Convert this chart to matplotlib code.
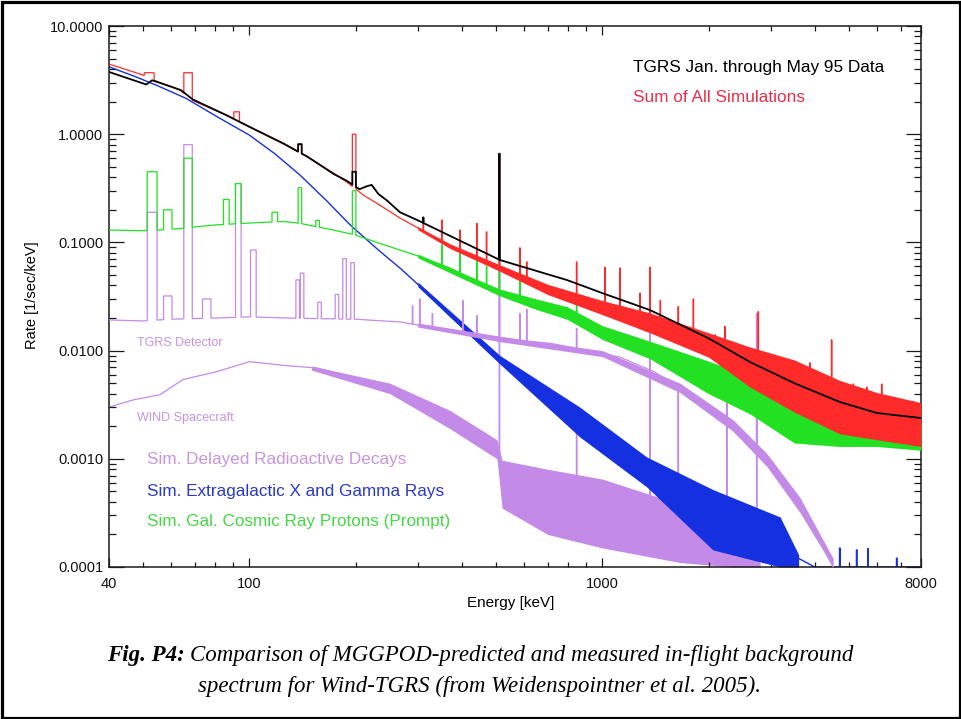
import numpy as np
import matplotlib
matplotlib.use("Agg")
import matplotlib.pyplot as plt
from matplotlib.patches import Rectangle
from matplotlib.ticker import FixedLocator, FixedFormatter, NullFormatter, LogLocator

plt.rcParams['font.family'] = ['Liberation Sans', 'DejaVu Sans']

# ---------------------------------------------------------------------------
# Spectra: energy [keV] and rate [1/sec/keV]
# ---------------------------------------------------------------------------

# TGRS measured background, Jan.-May 1995
tgrs_E = [40, 51, 53, 60, 64, 69, 86, 100, 125, 146, 173, 189, 205, 215, 222, 232,
          245, 267, 300, 370, 513, 794, 1000, 1365, 2000, 2620, 3500, 4710, 6000, 8000]
tgrs_R = [3.76, 2.88, 3.15, 2.75, 2.55, 2.10, 1.50, 1.17, 0.82, 0.62, 0.43, 0.37, 0.31,
          0.33, 0.34, 0.28, 0.245, 0.19, 0.16, 0.115, 0.0687, 0.0449, 0.034, 0.0237,
          0.0130, 0.00785, 0.0050, 0.00335, 0.00265, 0.00238]
tgrs_line_E = [139, 198, 311, 511]
tgrs_line_R = [0.81, 0.45, 0.17, 0.66]

# Sum of all simulated components
sum_E = [40, 50, 55, 63.6, 68.6, 86, 100, 125, 146, 173, 189, 210, 240, 267, 300, 370,
         513, 700, 1000, 1365, 2000, 2620, 3500, 4710, 6000, 8000]
sum_R = [4.45, 3.52, 3.05, 2.56, 2.07, 1.50, 1.17, 0.81, 0.616, 0.438, 0.36, 0.275,
         0.21, 0.168, 0.136, 0.094, 0.059, 0.037, 0.025, 0.018, 0.0113, 0.0071, 0.0047,
         0.0030, 0.0025, 0.0021]
sum_line_E = [52, 67, 92, 139, 198, 311, 351, 395, 441, 470, 511, 584, 611, 846, 1017,
              1122, 1279, 1365, 1460, 1641, 1811, 2086, 2225, 2506, 2766, 3018, 3440,
              3876, 4467, 5143, 5617, 6194, 7610]
sum_line_R = [3.7, 3.7, 1.61, 0.80, 1.0, 0.167, 0.161, 0.130, 0.15, 0.125, 0.66, 0.089,
              0.066, 0.066, 0.059, 0.058, 0.034, 0.059, 0.029, 0.0255, 0.030, 0.014,
              0.0167, 0.0097, 0.0229, 0.0083, 0.0074, 0.0077, 0.0126, 0.0049, 0.0046,
              0.0049, 0.0034]
sum_band_E = [300, 370, 513, 700, 1000, 1365, 2000, 2620, 3500, 4710, 6000, 8000]
sum_band_hi = [0.140, 0.097, 0.062, 0.041, 0.0290, 0.0223, 0.0146, 0.0108, 0.0082,
               0.0053, 0.0041, 0.0033]
sum_band_lo = [0.131, 0.088, 0.054, 0.033, 0.0215, 0.0146, 0.0087, 0.0046, 0.0027,
               0.0017, 0.0015, 0.0013]

# Galactic cosmic-ray protons (prompt)
gcr_E = [40, 52, 63, 80, 100, 125, 139, 173, 198, 234, 267, 300, 370, 513, 650, 794,
         1000, 1365, 2000, 2620, 3500, 4710, 6000, 8000]
gcr_R = [0.130, 0.128, 0.134, 0.145, 0.151, 0.156, 0.150, 0.130, 0.118, 0.098, 0.085,
         0.075, 0.058, 0.0344, 0.027, 0.0223, 0.0147, 0.0101, 0.00565, 0.0039, 0.0023,
         0.00175, 0.0015, 0.0014]
gcr_line_E = [53, 58.7, 67, 86, 93, 118, 139, 156, 198, 351, 395, 441, 470, 511, 584, 846]
gcr_line_R = [0.45, 0.20, 0.60, 0.25, 0.35, 0.19, 0.32, 0.16, 0.30, 0.095, 0.082, 0.069,
              0.060, 0.12, 0.045, 0.028]
gcr_band_E = [300, 513, 650, 794, 1000, 1365, 2000, 2620, 3500, 4710, 6000, 8000]
gcr_band_hi = [0.078, 0.037, 0.0300, 0.0255, 0.0170, 0.0122, 0.0080, 0.0058, 0.0038,
               0.0028, 0.0023, 0.0021]
gcr_band_lo = [0.072, 0.032, 0.0240, 0.0195, 0.0127, 0.0084, 0.0040, 0.0026, 0.0014,
               0.0013, 0.0013, 0.0012]

# Extragalactic X and gamma rays
cxb_E = [40, 47, 55, 66, 81, 100, 118, 139, 165, 193, 232, 267, 300, 370, 450, 513,
         600, 711, 864, 970, 1150, 1336, 1650, 2057, 2600, 3190, 3600, 4000, 8000]
cxb_R = [4.2, 3.45, 2.8, 2.15, 1.45, 0.98, 0.66, 0.42, 0.245, 0.145, 0.085, 0.058,
         0.041, 0.021, 0.0118, 0.0082, 0.0055, 0.0035, 0.0022, 0.0017, 0.0011, 0.00075,
         0.00045, 0.00029, 0.00020, 0.00016, 0.00012, 0.0001, 0.0001]
cxb_line_E = [4710, 5260, 5660, 6830]
cxb_line_R = [0.00015, 0.000144, 0.000148, 0.000121]
cxb_band_E = [300, 513, 864, 1336, 2057, 3190, 3600]
cxb_band_hi = [0.043, 0.0090, 0.0030, 0.00104, 0.00052, 0.00029, 0.00013]
cxb_band_lo = [0.039, 0.0075, 0.00159, 0.00055, 0.000144, 0.0001, 0.0001]

# Delayed radioactive decays in the TGRS detector
det_E = [40, 50, 60, 80, 100, 130, 150, 200, 267, 300, 370, 413, 513, 711, 1000, 1122,
         1400, 1660, 2000, 2345, 2925, 3630, 4510]
det_R = [0.0192, 0.0188, 0.0195, 0.0200, 0.0205, 0.020, 0.0198, 0.0195, 0.0184, 0.0172,
         0.0155, 0.0140, 0.0128, 0.0117, 0.0094, 0.0087, 0.0064, 0.0045, 0.0031,
         0.00205, 0.00098, 0.00038, 0.0001]
det_line_E = [53, 58.7, 67, 75.7, 93, 102.6, 137, 141, 158, 177, 186, 196, 290, 304, 330,
              403, 441, 511, 584, 611, 846, 1365, 2254, 2740]
det_line_R = [0.19, 0.032, 0.80, 0.030, 0.35, 0.085, 0.045, 0.052, 0.028, 0.033, 0.071,
              0.065, 0.026, 0.030, 0.022, 0.029, 0.021, 0.25, 0.022, 0.024, 0.016, 0.040,
              0.0046, 0.022]
det_band_E = [300, 513, 1000, 1660, 2345, 2925, 3630, 4510]
det_band_hi = [0.0180, 0.0136, 0.0100, 0.0050, 0.0023, 0.00112, 0.00044, 0.00012]
det_band_lo = [0.0165, 0.0121, 0.0088, 0.0041, 0.0018, 0.00085, 0.00032, 0.0001]

# Delayed radioactive decays in the WIND spacecraft
wind_E = [40, 46.8, 55.7, 64.8, 80.9, 100, 125, 155, 193, 239, 298, 370, 459, 503, 520,
          600, 697, 1000, 1660, 2345, 2800]
wind_R = [0.0030, 0.0035, 0.0039, 0.0054, 0.0064, 0.0079, 0.0073, 0.0069, 0.0058, 0.0043,
          0.0033, 0.0023, 0.0015, 0.00121, 0.00055, 0.00060, 0.00052, 0.00039, 0.00022,
          0.00013, 0.0001]
wind_line_E = [511, 846, 1365, 1641, 2254, 2740]
wind_line_R = [0.25, 0.0028, 0.040, 0.0044, 0.0046, 0.022]
wind_band_E = [150, 250, 370, 503, 520, 700, 1000, 1660, 2345, 2800]
wind_band_hi = [0.0072, 0.0050, 0.0028, 0.0015, 0.00097, 0.00080, 0.00065, 0.00038,
                0.00020, 0.00011]
wind_band_lo = [0.0066, 0.0040, 0.0019, 0.0010, 0.00035, 0.00020, 0.00015, 0.00011,
                0.0001, 0.0001]

x_ticks = [40, 100, 1000, 8000]
x_tick_labels = ['40', '100', '1000', '8000']
y_ticks = [1e-4, 1e-3, 1e-2, 1e-1, 1, 10]
y_tick_labels = ['0.0001', '0.0010', '0.0100', '0.1000', '1.0000', '10.0000']

# ---------------------------------------------------------------------------
BLACK = '#000000'
RED = '#ff2b2b'
GREEN = '#22e022'
BLUE = '#1530e0'
VIOLET = '#c48ae8'


def log_interp(E, cE, cR):
    return 10 ** np.interp(np.log10(E), np.log10(cE), np.log10(cR))


def half_width(E):
    """Half width of a histogram line feature, in decades of energy."""
    if E < 55:
        return 0.014
    if E < 80:
        return 0.012
    if E < 120:
        return 0.008
    if E < 250:
        return 0.005
    return 0.0008


def spectrum_path(cE, cR, lE=(), lR=()):
    """Continuum polyline with rectangular line features cut into it."""
    cE = np.asarray(cE, float)
    cR = np.asarray(cR, float)
    wins = [(e * 10 ** -half_width(e), e * 10 ** half_width(e)) for e in lE]
    pts = [(e, 1, r) for e, r in zip(cE, cR)
           if not any(a <= e <= b for a, b in wins)]
    for (a, b), r in zip(wins, lR):
        pts.append((a, 0, log_interp(a, cE, cR)))
        pts.append((a, 2, r))
        pts.append((b, 0, r))
        pts.append((b, 2, log_interp(b, cE, cR)))
    pts.sort(key=lambda p: (p[0], p[1]))
    return np.array([p[0] for p in pts]), np.array([p[2] for p in pts])


fig = plt.figure(figsize=(9.61, 7.19), dpi=100)
ax = fig.add_axes([109 / 961, 1 - 567 / 719, 812 / 961, 541 / 719])
ax.set_xscale('log')
ax.set_yscale('log')

layers = [
    (wind_E, wind_R, wind_line_E, wind_line_R, wind_band_E, wind_band_lo, wind_band_hi, VIOLET, 0.9, 1),
    (cxb_E, cxb_R, cxb_line_E, cxb_line_R, cxb_band_E, cxb_band_lo, cxb_band_hi, BLUE, 1.0, 2),
    (det_E, det_R, det_line_E, det_line_R, det_band_E, det_band_lo, det_band_hi, VIOLET, 0.9, 3),
    (gcr_E, gcr_R, gcr_line_E, gcr_line_R, gcr_band_E, gcr_band_lo, gcr_band_hi, GREEN, 0.9, 4),
    (sum_E, sum_R, sum_line_E, sum_line_R, sum_band_E, sum_band_lo, sum_band_hi, RED, 0.9, 5),
]
for cE, cR, lE, lR, bE, blo, bhi, col, lw, z in layers:
    ax.fill_between(bE, blo, bhi, color=col, lw=0, zorder=z)
    xs, ys = spectrum_path(cE, cR, lE, lR)
    ax.plot(xs, ys, color=col, lw=lw, zorder=z + 0.1, solid_joinstyle='miter')

xs, ys = spectrum_path(tgrs_E, tgrs_R, tgrs_line_E, tgrs_line_R)
ax.plot(xs, ys, color=BLACK, lw=1.3, zorder=6)

ax.set_xlim(40, 8000)
ax.set_ylim(1e-4, 10)

# axes, ticks
ax.xaxis.set_major_locator(FixedLocator(x_ticks))
ax.xaxis.set_major_formatter(FixedFormatter(x_tick_labels))
ax.xaxis.set_minor_locator(FixedLocator(
    [m * 10 ** k for k in (1, 2, 3) for m in range(2, 10) if 40 < m * 10 ** k < 8000
     and m * 10 ** k not in (100, 1000)]))
ax.xaxis.set_minor_formatter(NullFormatter())
ax.yaxis.set_major_locator(FixedLocator(y_ticks))
ax.yaxis.set_major_formatter(FixedFormatter(y_tick_labels))
ax.yaxis.set_minor_locator(LogLocator(base=10, subs=range(2, 10)))
ax.yaxis.set_minor_formatter(NullFormatter())

ax.tick_params(which='both', direction='in', top=True, right=True, width=0.9,
               color='#1a1a1a', labelcolor='#111111')
ax.tick_params(axis='x', which='major', length=6.5, pad=7, labelsize=10.5)
ax.tick_params(axis='x', which='minor', length=3.6)
ax.tick_params(axis='y', which='major', length=10.8, pad=4, labelsize=10.5)
ax.tick_params(axis='y', which='minor', length=5)
for s in ax.spines.values():
    s.set_linewidth(1.1)
    s.set_color('#1a1a1a')

ax.set_xlabel('Energy [keV]', fontsize=11, va='center')
ax.xaxis.set_label_coords((511 - 109) / 812, -(603 - 567) / 541)
ax.set_ylabel('Rate [1/sec/keV]', fontsize=10.5, va='center')
ax.yaxis.set_label_coords((32 - 109) / 812, (567 - 295) / 541)

# annotations
ax.text(0.645, 0.924, 'TGRS Jan. through May 95 Data', transform=ax.transAxes,
        fontsize=12.4, color=BLACK, va='center', ha='left')
ax.text(0.645, 0.867, 'Sum of All Simulations', transform=ax.transAxes,
        fontsize=12.4, color='#e8304a', va='center', ha='left')
ax.text(0.0345, 0.4146, 'TGRS Detector', transform=ax.transAxes,
        fontsize=9, color='#c994e0', va='center', ha='left')
ax.text(0.0345, 0.2754, 'WIND Spacecraft', transform=ax.transAxes,
        fontsize=9, color='#c994e0', va='center', ha='left')
ax.text(0.0468, 0.198, 'Sim. Delayed Radioactive Decays', transform=ax.transAxes,
        fontsize=12.3, color='#c994e0', va='center', ha='left')
ax.text(0.0468, 0.139, 'Sim. Extragalactic X and Gamma Rays', transform=ax.transAxes,
        fontsize=12.3, color='#2a38c8', va='center', ha='left')
ax.text(0.0468, 0.0837, 'Sim. Gal. Cosmic Ray Protons (Prompt)', transform=ax.transAxes,
        fontsize=12.3, color='#44d844', va='center', ha='left')

# caption
serif = ['Liberation Serif', 'DejaVu Serif']
renderer = fig.canvas.get_renderer()
W = 961.0
cap_y1 = 1 - 655 / 719
cap_y2 = 1 - 686 / 719
t_a = fig.text(0, cap_y1, 'Fig. P4:', fontsize=16.5, family=serif, style='italic',
               weight='bold', va='center', ha='left')
t_b = fig.text(0, cap_y1, 'Comparison of MGGPOD-predicted and measured in-flight background',
               fontsize=16.5, family=serif, style='italic', va='center', ha='left')
wa = t_a.get_window_extent(renderer).width
wb = t_b.get_window_extent(renderer).width
gap = 5.0
x0 = 480 - (wa + gap + wb) / 2
t_a.set_x(x0 / W)
t_b.set_x((x0 + wa + gap) / W)
fig.text(480 / W, cap_y2, 'spectrum for Wind-TGRS (from Weidenspointner et al. 2005).',
         fontsize=16.5, family=serif, style='italic', va='center', ha='center')

# page frame
fig.patches.append(Rectangle((1.5 / W, 1.5 / 719), 1 - 3 / W, 1 - 3 / 719,
                             transform=fig.transFigure, fill=False,
                             edgecolor='black', lw=2.3))

fig.savefig('out.png', dpi=100, facecolor='white')
